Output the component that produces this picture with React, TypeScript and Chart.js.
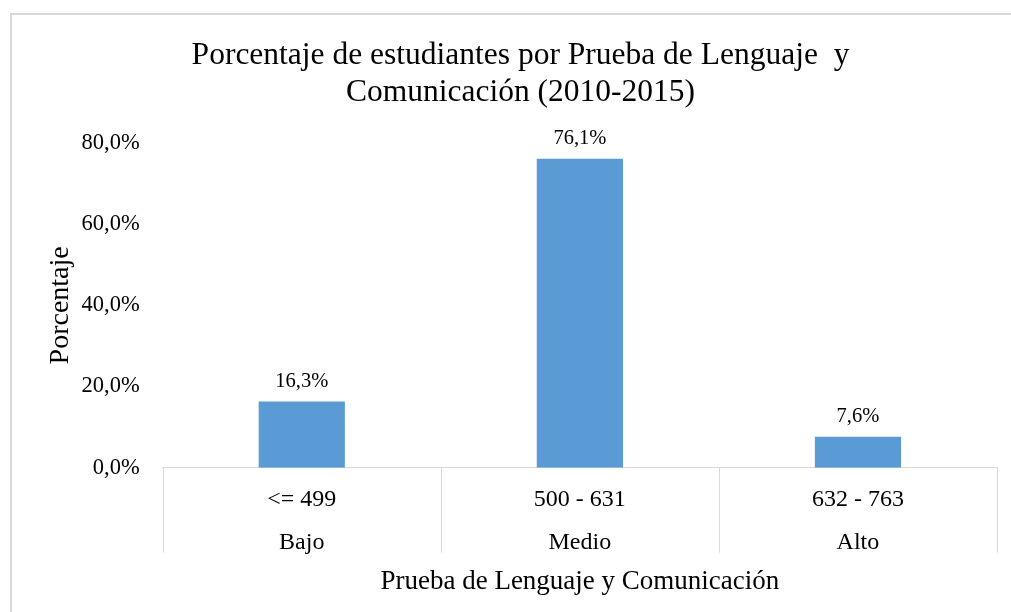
import React, { useEffect, useRef } from "react";
import { Chart, registerables } from "chart.js";

Chart.register(...registerables);

const rangeLabels = ["<= 499", "500 - 631", "632 - 763"];
const levelLabels = ["Bajo", "Medio", "Alto"];
const percentages = [16.3, 76.1, 7.6];
const yTicks = [0, 20, 40, 60, 80];

const titleLines = ["Porcentaje de estudiantes por Prueba de Lenguaje  y", "Comunicación (2010-2015)"];
const xTitle = "Prueba de Lenguaje y Comunicación";
const yTitle = "Porcentaje";

const FONT = "'Liberation Serif', 'Times New Roman', serif";
const fmt = (v: number) => v.toFixed(1).replace(".", ",") + "%";

const dataLabelPlugin = {
  id: "dataLabels",
  afterDatasetsDraw(chart: any) {
    const ctx = chart.ctx;
    ctx.save();
    ctx.font = `20.5px ${FONT}`;
    ctx.fillStyle = "#000";
    ctx.textAlign = "center";
    ctx.textBaseline = "middle";
    chart.data.datasets.forEach((ds: any, di: number) => {
      const meta = chart.getDatasetMeta(di);
      meta.data.forEach((bar: any, i: number) => {
        ctx.fillText(fmt(ds.data[i]), bar.x, bar.y - 20);
      });
    });
    ctx.restore();
  },
};

const separatorPlugin = {
  id: "categorySeparators",
  afterDraw(chart: any) {
    const xs = chart.scales.x;
    const n = chart.data.labels.length;
    const step = xs.getPixelForValue(1) - xs.getPixelForValue(0);
    const ctx = chart.ctx;
    ctx.save();
    ctx.strokeStyle = "#d9d9d9";
    ctx.lineWidth = 1;
    for (let i = 0; i <= n; i++) {
      const x = Math.round(xs.getPixelForValue(i) - step / 2) + 0.5;
      ctx.beginPath();
      ctx.moveTo(x, xs.top);
      ctx.lineTo(x, xs.top + 85);
      ctx.stroke();
    }
    ctx.restore();
  },
};

export default function App() {
  const ref = useRef<HTMLCanvasElement | null>(null);
  useEffect(() => {
    if (!ref.current) return;
    const chart = new Chart(ref.current, {
      type: "bar",
      data: {
        labels: rangeLabels.map((r, i) => [r, levelLabels[i]]),
        datasets: [
          {
            data: percentages,
            backgroundColor: "#5b9bd5",
            borderWidth: 0,
            categoryPercentage: 1,
            barPercentage: 0.31,
          },
        ],
      },
      options: {
        responsive: false,
        animation: false,
        layout: { padding: { left: 32, right: 29, top: 22.5, bottom: 13.5 } },
        plugins: {
          legend: { display: false },
          tooltip: { enabled: false },
          title: {
            display: true,
            text: titleLines,
            color: "#000",
            font: { family: FONT, size: 31.5, weight: "normal", lineHeight: 1.175 },
            padding: { top: 0, bottom: 31.5 },
          },
        },
        scales: {
          x: {
            offset: true,
            grid: { display: false, drawTicks: false },
            border: { display: true, color: "#d9d9d9", width: 1 },
            ticks: {
              color: "#000",
              padding: 10,
              maxRotation: 0,
              autoSkip: false,
              font: { family: FONT, size: 24, lineHeight: 1.8 },
            },
            title: {
              display: true,
              text: xTitle,
              color: "#000",
              font: { family: FONT, size: 27, lineHeight: 1.2 },
              padding: { top: -8, bottom: 0 },
            },
          },
          y: {
            min: 0,
            max: 80,
            afterBuildTicks: (axis: any) => {
              axis.ticks = yTicks.map((v) => ({ value: v }));
            },
            grid: { display: false, drawTicks: false },
            border: { display: false },
            ticks: {
              color: "#000",
              padding: 23,
              font: { family: FONT, size: 22.5 },
              callback: (v: any) => fmt(Number(v)),
            },
            title: {
              display: true,
              text: yTitle,
              color: "#000",
              font: { family: FONT, size: 28, lineHeight: 1.2 },
              padding: { top: 0, bottom: -19 },
            },
          },
        },
      },
      plugins: [dataLabelPlugin, separatorPlugin],
    });
    return () => chart.destroy();
  }, []);
  return (
    <div
      style={{
        position: "fixed",
        left: 10,
        top: 13,
        width: 1001,
        height: 599,
        borderLeft: "2px solid #d9d9d9",
        borderTop: "2px solid #d9d9d9",
        overflow: "hidden",
        background: "#fff",
      }}
    >
      <canvas ref={ref} width={1014} height={597} style={{ display: "block" }} />
    </div>
  );
}
